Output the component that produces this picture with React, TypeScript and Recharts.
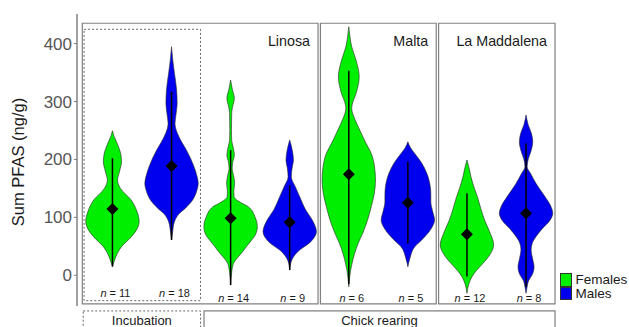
import React from 'react';
import {
  ComposedChart,
  Area,
  Scatter,
  XAxis,
  YAxis,
  ReferenceLine,
  ReferenceArea,
  Legend,
  Label,
} from 'recharts';

// ---------------- DATA ----------------
const positions = [1, 2, 3, 4, 5, 6, 7, 8];
const sexes = ['Females', 'Males', 'Females', 'Males', 'Females', 'Males', 'Females', 'Males'];
const stageOfGroup = ['Incubation', 'Incubation', 'Chick rearing', 'Chick rearing', 'Chick rearing', 'Chick rearing', 'Chick rearing', 'Chick rearing'];
const means = [114.4, 188.6, 98.3, 91.4, 174.2, 125.3, 70.7, 107];
const rangeLow = [15, 61, -17, 9, -15, 55, -2, -20];
const rangeHigh = [202, 317, 216, 156, 353, 196, 141.5, 228];
const nValues = [11, 18, 14, 9, 6, 5, 12, 8];
const yTicks = [0, 100, 200, 300, 400];
const facetNames = ['Linosa', 'Malta', 'La Maddalena'];
const stageNames = ['Incubation', 'Chick rearing'];
const legendLabels = ['Females', 'Males'];

// violin profiles: [value, relative density]
const incubationFemales: [number, number][] = [
  [249.5, 0], [240, 0.06], [225, 0.2], [210, 0.31], [196, 0.34], [180, 0.27], [164, 0.19],
  [150, 0.3], [130, 0.7], [110, 0.92], [92.5, 1.0], [80, 0.92], [66.6, 0.71], [49.4, 0.34],
  [38.4, 0.19], [25, 0.07], [14.8, 0],
];
const incubationMales: [number, number][] = [
  [394.5, 0], [370, 0.05], [348.6, 0.11], [320, 0.19], [296.8, 0.21], [275, 0.16], [262, 0.13],
  [245, 0.22], [230, 0.38], [216, 0.56], [190, 0.82], [170, 0.96], [158.8, 1.0], [145, 0.94],
  [130, 0.79], [115, 0.5], [107, 0.3], [92.5, 0.11], [75, 0.04], [61, 0],
];
const linosaFemales: [number, number][] = [
  [337, 0], [322, 0.06], [305.4, 0.14], [290, 0.07], [279.5, 0.04], [250, 0.03], [233, 0.04],
  [220, 0.1], [207.6, 0.14], [195, 0.08], [184.6, 0.06], [170, 0.12], [158.8, 0.15], [145, 0.12],
  [135.6, 0.13], [125, 0.4], [118.4, 0.66], [100, 0.92], [83.9, 1.0], [70, 0.93], [61, 0.79],
  [50, 0.6], [40.7, 0.45], [30, 0.25], [20.7, 0.11], [5, 0.04], [-16.7, 0],
];
const linosaMales: [number, number][] = [
  [233.5, 0], [215, 0.1], [199, 0.14], [185, 0.09], [170, 0.06], [152.9, 0.21], [135, 0.38],
  [112.7, 0.6], [95, 0.85], [75.2, 1.0], [58, 0.79], [40.7, 0.3], [26.4, 0.08], [9.1, 0],
];
const maltaFemales: [number, number][] = [
  [429, 0], [410, 0.05], [394.5, 0.11], [370, 0.28], [342.7, 0.39], [315, 0.28], [295, 0.13],
  [288, 0.11], [270, 0.22], [250.7, 0.41], [230, 0.62], [210.5, 0.84], [185, 0.97], [164.4, 1.0],
  [140, 0.95], [118.4, 0.84], [95, 0.7], [72.5, 0.52], [55, 0.35], [38, 0.22], [20, 0.12],
  [9, 0.07], [-19.7, 0],
];
const maltaMales: [number, number][] = [
  [230.6, 0], [220, 0.1], [210.5, 0.25], [195, 0.5], [176, 0.71], [153, 0.84], [140, 0.86],
  [127, 0.86], [110, 0.93], [95.4, 1.0], [85, 0.93], [72.5, 0.75], [60, 0.5], [49.4, 0.26],
  [30, 0.08], [14.8, 0],
];
const maddalenaFemales: [number, number][] = [
  [199, 0], [185, 0.08], [170, 0.15], [150, 0.28], [135.6, 0.39], [115, 0.52], [95.4, 0.66],
  [75, 0.85], [52.3, 1.0], [35, 0.85], [20.7, 0.6], [8, 0.35], [-2.4, 0.19], [-15, 0.07], [-31, 0],
];
const maddalenaMales: [number, number][] = [
  [276.6, 0], [260, 0.08], [245, 0.2], [230.6, 0.25], [215, 0.19], [200, 0.08], [187.4, 0.04],
  [175, 0.18], [158.8, 0.37], [135, 0.72], [120, 0.92], [107, 1.0], [95, 0.9], [80, 0.6],
  [66.6, 0.37], [55, 0.23], [43.7, 0.19], [30, 0.24], [14.8, 0.3], [0, 0.22], [-8, 0.11],
  [-20, 0.04], [-31, 0],
];
const profiles = [
  incubationFemales, incubationMales, linosaFemales, linosaMales,
  maltaFemales, maltaMales, maddalenaFemales, maddalenaMales,
];

// ---------------- LAYOUT / STYLE ----------------
const WIDTH = 629;
const HEIGHT = 327;
const COLORS: Record<string, string> = { Females: '#00EE00', Males: '#0000EE' };
const HALF_WIDTH = 0.452; // max half width of a violin in x units
const X_DOMAIN: [number, number] = [0.4, 8.6];
const Y_DOMAIN: [number, number] = [-53, 451];
const FACET_X: [number, number][] = [[0.49, 4.48], [4.52, 6.48], [6.52, 8.49]];
const FACET_Y: [number, number] = [-49.5, 435];
const INCUB_BOX_X: [number, number] = [0.52, 2.49];
const INCUB_BOX_Y: [number, number] = [-43.8, 424.6];
const STRIP_X: [number, number][] = [[0.505, 2.49], [2.55, 8.49]];
const STRIP_Y: [number, number] = [-61.5, -110];
const N_LABEL_Y_INC = -38;
const N_LABEL_Y = -45.6;
const FONT = '"Liberation Sans", Arial, sans-serif';

const violinRows = profiles.map((p) =>
  [...p].sort((a, b) => a[0] - b[0]).map(([v, d]) => ({ v, d }))
);

const meanPoints = positions.map((pos, i) => ({ pos, v: means[i] }));
const nLabelPoints = positions.map((pos, i) => ({
  pos,
  v: stageOfGroup[i] === 'Incubation' ? N_LABEL_Y_INC : N_LABEL_Y,
  n: nValues[i],
}));

const Diamond = (props: any) => {
  const { cx, cy } = props;
  if (cx == null || cy == null) return null;
  const r = 6;
  return (
    <polygon
      points={`${cx},${cy - r} ${cx + r},${cy} ${cx},${cy + r} ${cx - r},${cy}`}
      fill="#000"
    />
  );
};

const NLabel = (props: any) => {
  const { cx, cy, payload } = props;
  if (cx == null || cy == null) return null;
  return (
    <text x={cx + 3} y={cy} textAnchor="middle" fontSize={11} fill="#1a1a1a" fontFamily={FONT}>
      <tspan fontStyle="italic">n</tspan>
      {` = ${payload.n}`}
    </text>
  );
};

const YLabel = (props: any) => {
  const vb = props.viewBox || { x: 0, y: 14, width: 77, height: 292 };
  const cx = 18;
  const cy = vb.y + vb.height / 2 + 2;
  return (
    <text
      x={cx}
      y={cy}
      transform={`rotate(-90 ${cx} ${cy})`}
      textAnchor="middle"
      dominantBaseline="central"
      fontSize={16.5}
      fill="#1a1a1a"
      fontFamily={FONT}
    >
      Sum PFAS (ng/g)
    </text>
  );
};

const facetTitle = (name: string) => (props: any) => {
  const vb = props.viewBox;
  if (!vb) return null;
  return (
    <text
      x={vb.x + vb.width - 8}
      y={vb.y + 22.7}
      textAnchor="end"
      fontSize={14.3}
      fill="#1a1a1a"
      fontFamily={FONT}
    >
      {name}
    </text>
  );
};

const stripTitle = (name: string) => (props: any) => {
  const vb = props.viewBox;
  if (!vb) return null;
  return (
    <text
      x={vb.x + vb.width / 2}
      y={vb.y + 14.3}
      textAnchor="middle"
      fontSize={13}
      fill="#1a1a1a"
      fontFamily={FONT}
    >
      {name}
    </text>
  );
};

const LegendContent = () => (
  <div style={{ fontFamily: FONT, fontSize: 13.5, lineHeight: '13.5px', color: '#1a1a1a' }}>
    {legendLabels.map((lab) => (
      <div key={lab} style={{ display: 'flex', alignItems: 'center', height: 13.5 }}>
        <span
          style={{
            display: 'inline-block',
            width: 11.5,
            height: 13.5,
            background: COLORS[lab],
            border: '0.5px solid #333',
            boxSizing: 'border-box',
            marginRight: 4,
          }}
        />
        <span>{lab}</span>
      </div>
    ))}
  </div>
);

export default function App() {
  return (
    <div
      style={{
        position: 'absolute',
        left: 0,
        top: 0,
        width: WIDTH,
        height: HEIGHT,
        background: '#fff',
        fontFamily: FONT,
      }}
    >
      <ComposedChart
        width={WIDTH}
        height={HEIGHT}
        layout="vertical"
        margin={{ top: 14, right: 67.5, bottom: 21, left: 0 }}
      >
        <XAxis
          type="number"
          dataKey="pos"
          domain={X_DOMAIN}
          height={0}
          tick={false}
          tickLine={false}
          axisLine={{ stroke: '#8a8a8a', strokeWidth: 1.6 }}
        />
        <YAxis
          type="number"
          dataKey="v"
          domain={Y_DOMAIN}
          reversed
          ticks={yTicks}
          width={77}
          tickSize={3}
          tickLine={{ stroke: '#7a7a7a' }}
          axisLine={{ stroke: '#8a8a8a', strokeWidth: 1.6 }}
          tick={{ fontSize: 17, fill: '#555555', fontFamily: FONT }}
          tickMargin={2}
        >
          <Label content={YLabel} />
        </YAxis>

        {FACET_X.map(([x1, x2], i) => (
          <ReferenceArea
            key={`facet-${i}`}
            x1={x1}
            x2={x2}
            y1={FACET_Y[0]}
            y2={FACET_Y[1]}
            fill="none"
            fillOpacity={0}
            stroke="#808080"
            strokeWidth={1.2}
            ifOverflow="visible"
            label={{ content: facetTitle(facetNames[i]) } as any}
          />
        ))}
        <ReferenceArea
          x1={INCUB_BOX_X[0]}
          x2={INCUB_BOX_X[1]}
          y1={INCUB_BOX_Y[0]}
          y2={INCUB_BOX_Y[1]}
          fill="none"
          fillOpacity={0}
          stroke="#555"
          strokeWidth={0.9}
          strokeDasharray="2 2"
          ifOverflow="visible"
        />
        {STRIP_X.map(([x1, x2], i) => (
          <ReferenceArea
            key={`strip-${i}`}
            x1={x1}
            x2={x2}
            y1={STRIP_Y[0]}
            y2={STRIP_Y[1]}
            fill="none"
            fillOpacity={0}
            stroke={i === 0 ? '#555' : '#808080'}
            strokeWidth={i === 0 ? 0.9 : 1.2}
            strokeDasharray={i === 0 ? '2 2' : undefined}
            ifOverflow="visible"
            label={{ content: stripTitle(stageNames[i]) } as any}
          />
        ))}

        {violinRows.map((rows, i) => (
          <Area
            key={`violin-${i}`}
            data={rows}
            dataKey={(r: any) => [positions[i] - r.d * HALF_WIDTH, positions[i] + r.d * HALF_WIDTH]}
            type="monotone"
            fill={COLORS[sexes[i]]}
            fillOpacity={1}
            stroke="#2a2a2a"
            strokeWidth={0.6}
            dot={false}
            activeDot={false}
            legendType="none"
            isAnimationActive={false}
          />
        ))}

        {positions.map((pos, i) => (
          <ReferenceLine
            key={`range-${i}`}
            segment={[
              { x: pos, y: rangeLow[i] },
              { x: pos, y: rangeHigh[i] },
            ]}
            stroke="#000"
            strokeWidth={1.5}
            ifOverflow="visible"
          />
        ))}

        <Scatter data={meanPoints} shape={Diamond} isAnimationActive={false} legendType="none" />
        <Scatter data={nLabelPoints} shape={NLabel} isAnimationActive={false} legendType="none" />

        <Legend
          layout="vertical"
          align="center"
          verticalAlign="middle"
          content={LegendContent as any}
          wrapperStyle={{ position: 'absolute', left: 560, top: 273, width: 70, height: 27 }}
        />
      </ComposedChart>
    </div>
  );
}
